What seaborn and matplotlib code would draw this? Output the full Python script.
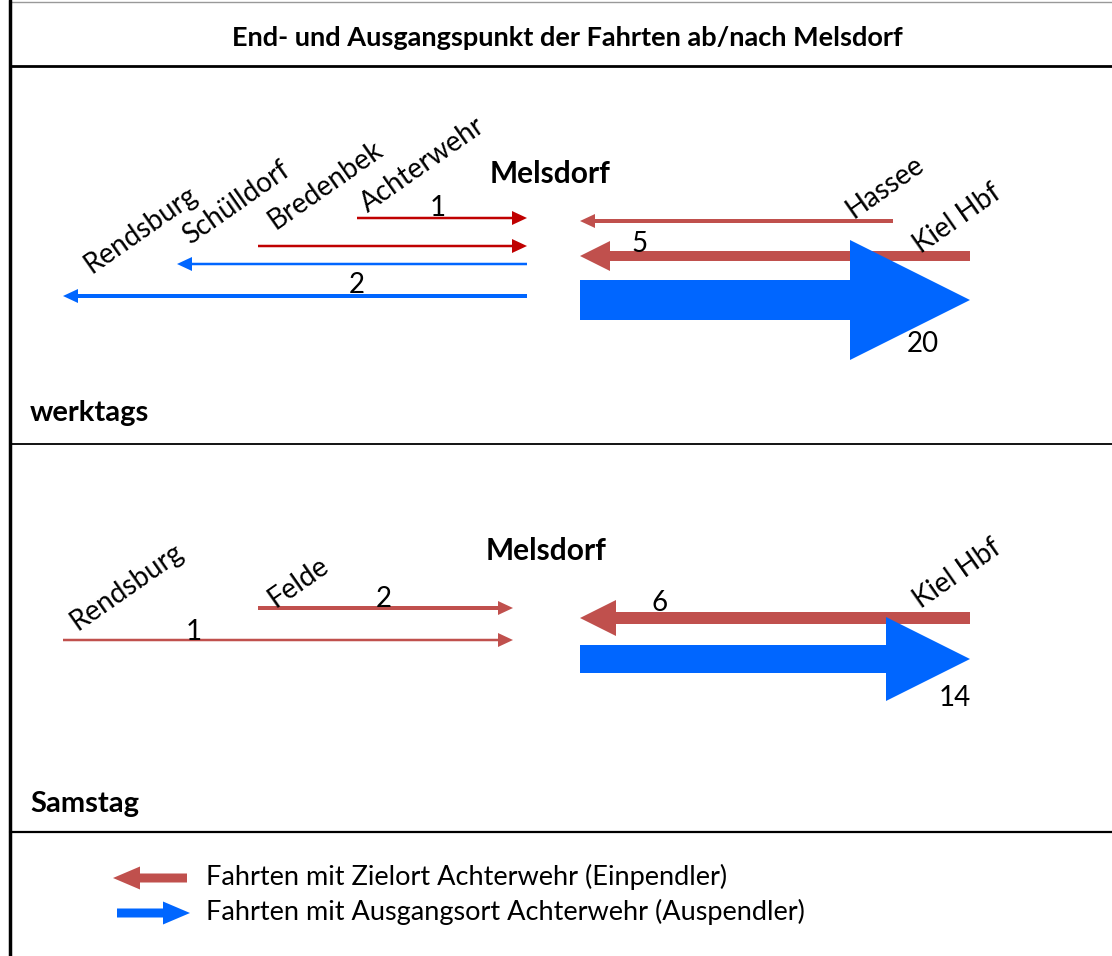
import matplotlib
matplotlib.use("Agg")
import matplotlib.pyplot as plt
from matplotlib.patches import FancyArrow
import seaborn as sns

# Daten: Fahrten ab/nach Melsdorf
titel = "End- und Ausgangspunkt der Fahrten ab/nach Melsdorf"

# werktags
wk_orte = ["Achterwehr", "Bredenbek", "Schülldorf", "Rendsburg", "Hassee", "Kiel Hbf", "Kiel Hbf"]
wk_richtung = ["ein", "ein", "aus", "aus", "ein", "ein", "aus"]
wk_fahrten = [1, 1, 1, 2, 2, 5, 20]
wk_zahl_zeigen = [True, False, False, True, False, True, True]

# Samstag
sa_orte = ["Felde", "Rendsburg", "Kiel Hbf", "Kiel Hbf"]
sa_richtung = ["ein", "ein", "ein", "aus"]
sa_fahrten = [2, 1, 6, 14]
sa_zahl_zeigen = [True, True, True, True]

legende = ["Fahrten mit Zielort Achterwehr (Einpendler)",
           "Fahrten mit Ausgangsort Achterwehr (Auspendler)"]

# Layout (Pixelkoordinaten der Skizze)
ort_lage = {"Rendsburg": 63, "Schülldorf": 177, "Bredenbek": 258, "Felde": 258,
            "Achterwehr": 357, "Hassee": 893, "Kiel Hbf": 970}
melsdorf_ost = 580

wk_layout = dict(
    melsdorf_west=527,
    zeile_y=[218, 246, 264, 296, 221, 256, 300],
    name_pos=[(368, 213), (276, 230), (190, 245), (92, 274), (853, 219), (921, 254), None],
    zahl_pos=[(438, 216), None, None, (357, 293), None, (640, 252), (923, 352)],
    farbe_ein=["#C00000", "#C00000", None, None, "#C0504D", "#C0504D", None],
    melsdorf_pos=(550, 183),
    tag="werktags", tag_y=421,
)
sa_layout = dict(
    melsdorf_west=513,
    zeile_y=[608, 640, 618, 659],
    name_pos=[(276, 608), (78, 631), (921, 609), None],
    zahl_pos=[(384, 607), (194, 640), (660, 611), (955, 706)],
    farbe_ein=["#C0504D", "#C0504D", "#C0504D", None],
    melsdorf_pos=(546, 560),
    tag="Samstag", tag_y=812,
)

blau = "#0066FF"
rot = "#C0504D"

sns.set_theme(style="white")
plt.rcParams["font.family"] = ["Lato", "DejaVu Sans"]
plt.rcParams["text.color"] = "black"

fig = plt.figure(figsize=(11.12, 9.56), dpi=100)
ax = fig.add_axes([0, 0, 1, 1])
ax.set_xlim(0, 1112)
ax.set_ylim(956, 0)
ax.axis("off")


def pfeil(x0, x1, y, w, farbe):
    hw = max(3 * w, 14)
    hl = max(3 * w, 15)
    ax.add_patch(FancyArrow(x0, y, x1 - x0, 0, width=w, head_width=hw, head_length=hl,
                            length_includes_head=True, color=farbe, lw=0, zorder=2))


def panel(orte, richtung, fahrten, zeigen, lay):
    for i, ort in enumerate(orte):
        y = lay["zeile_y"][i]
        x_ort = ort_lage[ort]
        ost = x_ort > melsdorf_ost
        x_mels = melsdorf_ost if ost else lay["melsdorf_west"]
        w = max(2 * fahrten[i], 2.5)
        if richtung[i] == "ein":
            pfeil(x_ort, x_mels, y, w, lay["farbe_ein"][i])
        else:
            pfeil(x_mels, x_ort, y, w, blau)
        if lay["name_pos"][i] is not None:
            nx, ny = lay["name_pos"][i]
            ax.text(nx, ny, ort, rotation=35, rotation_mode="anchor", ha="left",
                    va="baseline", fontsize=20, zorder=3)
        if zeigen[i] and lay["zahl_pos"][i] is not None:
            zx, zy = lay["zahl_pos"][i]
            ax.text(zx, zy, str(fahrten[i]), ha="center", va="baseline", fontsize=20, zorder=3)
    mx, my = lay["melsdorf_pos"]
    ax.text(mx, my, "Melsdorf", ha="center", va="baseline", fontsize=21.5, fontweight="bold")
    ax.text(30, lay["tag_y"], lay["tag"], ha="left", va="baseline", fontsize=21, fontweight="bold")


panel(wk_orte, wk_richtung, wk_fahrten, wk_zahl_zeigen, wk_layout)
panel(sa_orte, sa_richtung, sa_fahrten, sa_zahl_zeigen, sa_layout)

# Rahmen
ax.plot([10, 1112], [1.5, 1.5], color="#999999", lw=1)
ax.plot([10, 10], [0, 956], color="black", lw=2.5)
for y, lw in [(66, 2), (444, 1.3), (832, 1.6)]:
    ax.plot([10, 1112], [y, y], color="black", lw=lw)

ax.text(567, 46, titel, ha="center", va="baseline", fontsize=19.5, fontweight="bold")

# Legende
ax.add_patch(FancyArrow(187, 878, -74, 0, width=9, head_width=23, head_length=27,
                        length_includes_head=True, color=rot, lw=0))
ax.add_patch(FancyArrow(117, 913, 73, 0, width=9, head_width=23, head_length=27,
                        length_includes_head=True, color=blau, lw=0))
ax.text(206, 877, legende[0], ha="left", va="center", fontsize=19.5)
ax.text(206, 912, legende[1], ha="left", va="center", fontsize=19.5)

fig.savefig("out.png", dpi=100)
